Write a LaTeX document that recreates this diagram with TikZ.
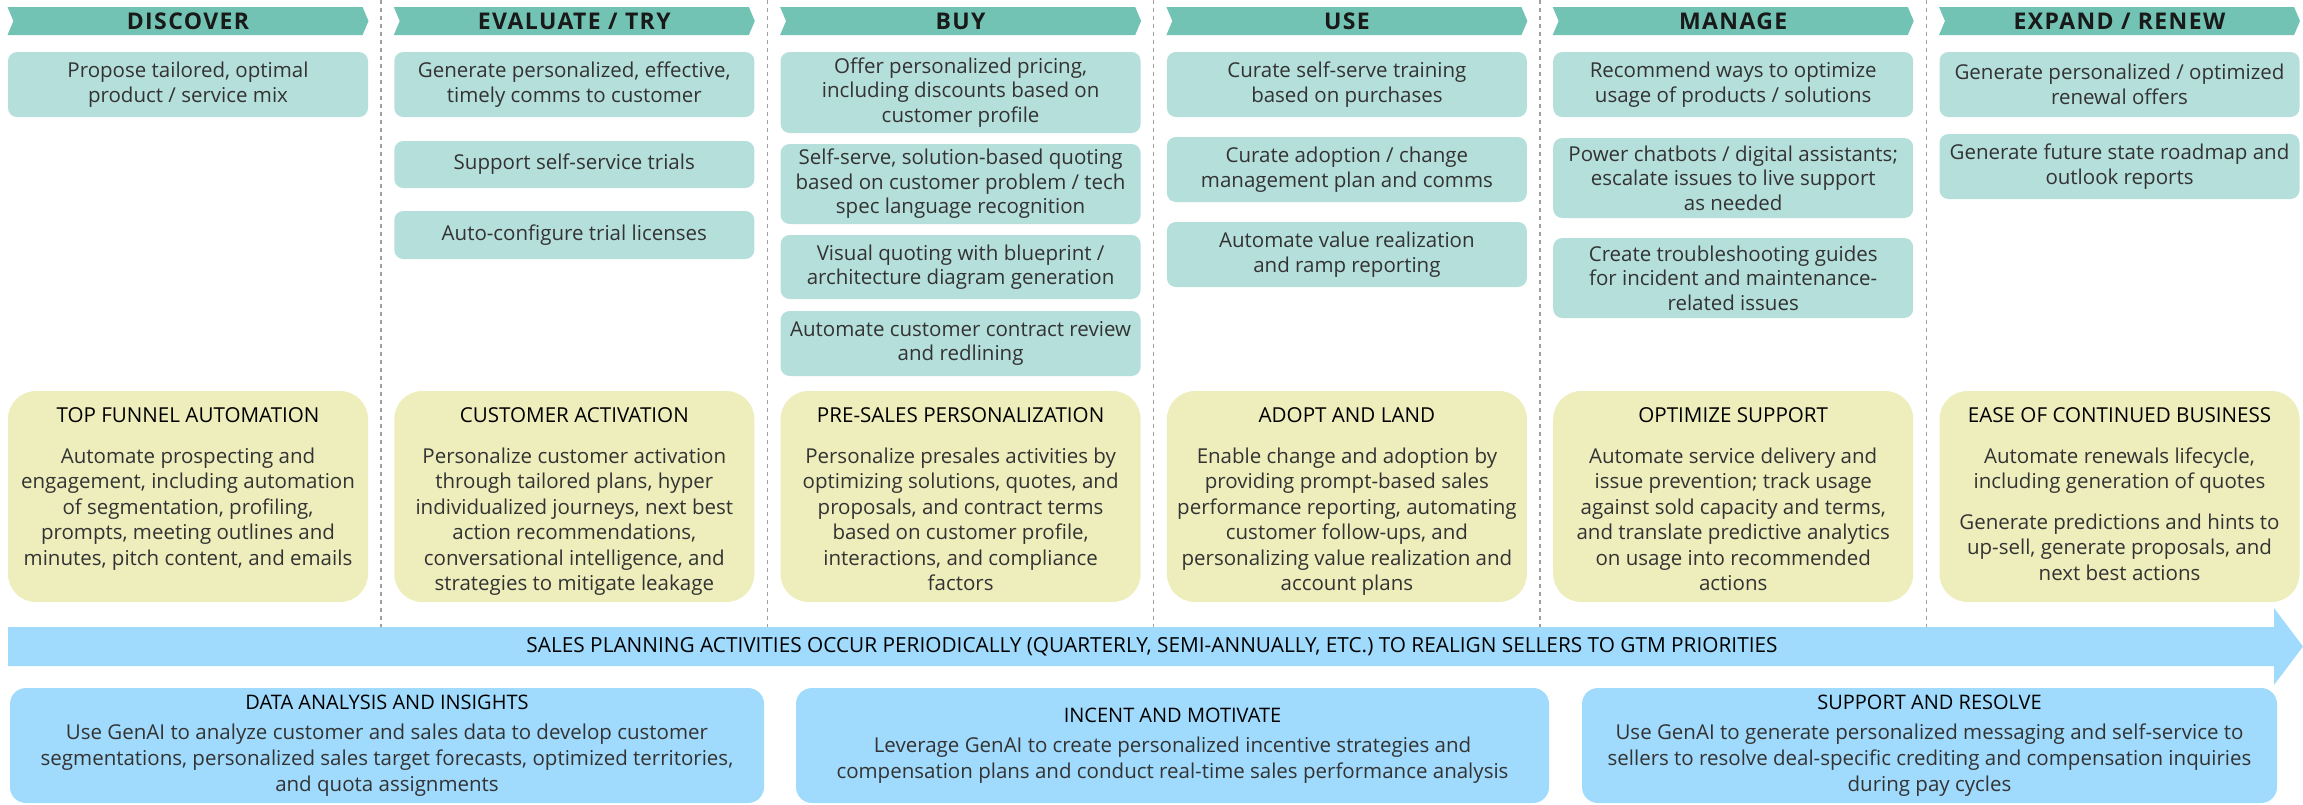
\documentclass[tikz,border=0pt]{standalone}
\usepackage{fontspec}
\setmainfont{Open Sans}
\newfontfamily\phasefont{Open Sans}[LetterSpace=6]
\usetikzlibrary{shapes.symbols}
\definecolor{headteal}{HTML}{72C3B4}
\definecolor{boxteal}{HTML}{B5DFDA}
\definecolor{themeyellow}{HTML}{EDEEBC}
\definecolor{planblue}{HTML}{A0DAFC}
\definecolor{ink}{HTML}{333333}
\def\bodyfont{\fontsize{20.5}{24.5}\selectfont}
\def\capfont{\fontsize{20}{24}\selectfont}

\begin{document}
\begin{tikzpicture}[x=1pt, y=-1pt,
	phase/.style={signal, signal from=west, signal to=east, signal pointer angle=134,
		fill=headteal, minimum width=361pt, minimum height=28pt, inner sep=0pt,
		font=\phasefont\bfseries\fontsize{23}{23}\selectfont, text=black!90},
	act/.style={fill=boxteal, rounded corners=9pt, minimum width=360pt, inner sep=0pt,
		align=center, font=\bodyfont, text=ink},
	theme/.style={fill=themeyellow, rounded corners=28pt, minimum width=360pt, minimum height=211pt},
	themetitle/.style={anchor=base, font=\fontsize{20.6}{24}\selectfont, text=black},
	themebody/.style={anchor=north, align=center, inner sep=0pt,
		font=\fontsize{20.5}{25.5}\selectfont, text=ink},
	enabler/.style={fill=planblue, rounded corners=16pt, minimum height=115pt, inner sep=0pt,
		align=center, font=\fontsize{20.5}{26}\selectfont, text=ink},
	sep/.style={gray!75, line width=1.2pt, dash pattern=on 4pt off 4pt}]
		%%%%% START %%%%%
		\useasboundingbox (0,0) rectangle (2303,804);
		
		\foreach \i in {0,...,5}
			\coordinate (c\i) at ({188+386.3*\i},0);
		\foreach \i in {0,...,4}
			\draw[sep] ({381+386.3*\i},0) -- ({381+386.3*\i},627);
		
		\node[phase] (discover) at (c0 |- 0,21) {DISCOVER};
		\node[phase] (evaluate) at (c1 |- 0,21) {EVALUATE / TRY};
		\node[phase] (buy) at (c2 |- 0,21) {BUY};
		\node[phase] (use) at (c3 |- 0,21) {USE};
		\node[phase] (manage) at (c4 |- 0,21) {MANAGE};
		\node[phase] (expand) at (c5 |- 0,21) {EXPAND / RENEW};
		
		\node[act, minimum height=65pt] (discover1) at (c0 |- 0,84.5) {Propose tailored, optimal\\product / service mix};
		
		\node[act, minimum height=65pt] (evaluate1) at (c1 |- 0,84.5) {Generate personalized, effective,\\timely comms to customer};
		\node[act, minimum height=47pt] (evaluate2) at (c1 |- 0,164.5) {Support self-service trials};
		\node[act, minimum height=48pt] (evaluate3) at (c1 |- 0,235) {Auto-configure trial licenses};
		
		\node[act, minimum height=81pt] (buy1) at (c2 |- 0,92.5) {Offer personalized pricing,\\including discounts based on\\customer profile};
		\node[act, minimum height=80pt] (buy2) at (c2 |- 0,184) {Self-serve, solution-based quoting\\based on customer problem / tech\\spec language recognition};
		\node[act, minimum height=64pt] (buy3) at (c2 |- 0,267) {Visual quoting with blueprint /\\architecture diagram generation};
		\node[act, minimum height=65pt] (buy4) at (c2 |- 0,343.5) {Automate customer contract review\\and redlining};
		
		\node[act, minimum height=65pt] (use1) at (c3 |- 0,84.5) {Curate self-serve training\\based on purchases};
		\node[act, minimum height=65pt] (use2) at (c3 |- 0,169.5) {Curate adoption / change\\management plan and comms};
		\node[act, minimum height=65pt] (use3) at (c3 |- 0,254.5) {Automate value realization\\and ramp reporting};
		
		\node[act, minimum height=65pt] (manage1) at (c4 |- 0,84.5) {Recommend ways to optimize\\usage of products / solutions};
		\node[act, minimum height=80pt] (manage2) at (c4 |- 0,178) {Power chatbots / digital assistants;\\escalate issues to live support\\as needed};
		\node[act, minimum height=80pt] (manage3) at (c4 |- 0,278) {Create troubleshooting guides\\for incident and maintenance-\\related issues};
		
		\node[act, minimum height=65pt] (expand1) at (c5 |- 0,84.5) {Generate personalized / optimized\\renewal offers};
		\node[act, minimum height=65pt] (expand2) at (c5 |- 0,166.5) {Generate future state roadmap and\\outlook reports};
		
		% themes
		\foreach \i in {0,...,5}
			\node[theme] (theme\i) at (c\i |- 0,496.5) {};
		\node[themetitle] (funnel) at (c0 |- 0,422) {TOP FUNNEL AUTOMATION};
		\node[themebody] at (c0 |- 0,447.4) {Automate prospecting and\\engagement, including automation\\of segmentation, profiling,\\prompts, meeting outlines and\\minutes, pitch content, and emails};
		\node[themetitle] (activation) at (c1 |- 0,422) {CUSTOMER ACTIVATION};
		\node[themebody] at (c1 |- 0,447.4) {Personalize customer activation\\through tailored plans, hyper\\individualized journeys, next best\\action recommendations,\\conversational intelligence, and\\strategies to mitigate leakage};
		\node[themetitle] (presales) at (c2 |- 0,422) {PRE-SALES PERSONALIZATION};
		\node[themebody] at (c2 |- 0,447.4) {Personalize presales activities by\\optimizing solutions, quotes, and\\proposals, and contract terms\\based on customer profile,\\interactions, and compliance\\factors};
		\node[themetitle] (adopt) at (c3 |- 0,422) {ADOPT AND LAND};
		\node[themebody] at (c3 |- 0,447.4) {Enable change and adoption by\\providing prompt-based sales\\performance reporting, automating\\customer follow-ups, and\\personalizing value realization and\\account plans};
		\node[themetitle] (support) at (c4 |- 0,422) {OPTIMIZE SUPPORT};
		\node[themebody] at (c4 |- 0,447.4) {Automate service delivery and\\issue prevention; track usage\\against sold capacity and terms,\\and translate predictive analytics\\on usage into recommended\\actions};
		\node[themetitle] (ease) at (c5 |- 0,422) {EASE OF CONTINUED BUSINESS};
		\node[themebody] at (c5 |- 0,447.4) {Automate renewals lifecycle,\\including generation of quotes\\[15pt]Generate predictions and hints to\\up-sell, generate proposals, and\\next best actions};
		
		% planning arrow
		\fill[planblue] (8,627) -- (2274,627) -- (2274,608) -- (2303,646.5) -- (2274,685) -- (2274,666) -- (8,666) -- cycle;
		\node[font=\fontsize{20.8}{24}\selectfont, text=black] (planning) at (1152,646.5) {SALES PLANNING ACTIVITIES OCCUR PERIODICALLY (QUARTERLY, SEMI-ANNUALLY, ETC.) TO REALIGN SELLERS TO GTM PRIORITIES};
		
		\node[enabler, minimum width=754pt] (insights) at (387,745.5) {{\capfont\color{black}DATA ANALYSIS AND INSIGHTS}\\[4pt]Use GenAI to analyze customer and sales data to develop customer\\segmentations, personalized sales target forecasts, optimized territories,\\and quota assignments};
		\node[enabler, minimum width=753pt] (incent) at (1172.5,745.5) {{\capfont\color{black}INCENT AND MOTIVATE}\\[4pt]Leverage GenAI to create personalized incentive strategies and\\compensation plans and conduct real-time sales performance analysis};
		\node[enabler, minimum width=695pt] (resolve) at (1929.5,745.5) {{\capfont\color{black}SUPPORT AND RESOLVE}\\[4pt]Use GenAI to generate personalized messaging and self-service to\\sellers to resolve deal-specific crediting and compensation inquiries\\during pay cycles};
		
		%%%%% END %%%%%
\end{tikzpicture}
\end{document}
